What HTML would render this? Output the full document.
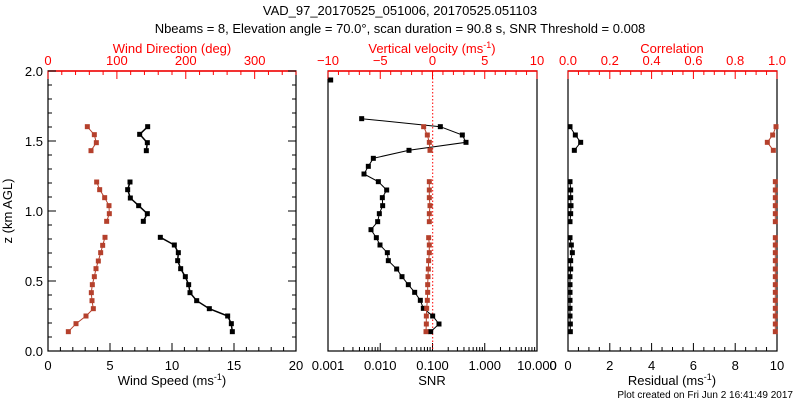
<!DOCTYPE html>
<html><head><meta charset="utf-8"><style>
html,body{margin:0;padding:0;background:#fff}
svg{display:block;font-family:"Liberation Sans",sans-serif;font-size:13px}
</style></head><body>
<svg id="s" width="800" height="400" viewBox="0 0 800 400" xmlns="http://www.w3.org/2000/svg">
<rect width="800" height="400" fill="#fff"/>
<text x="400" y="15" text-anchor="middle">VAD_97_20170525_051006, 20170525.051103</text>
<text x="400" y="33" text-anchor="middle">Nbeams = 8, Elevation angle = 70.0°, scan duration = 90.8 s, SNR Threshold = 0.008</text>
</svg>
<script>
var s=document.getElementById('s'),NS='http://www.w3.org/2000/svg';
function el(t,a,txt){var e=document.createElementNS(NS,t);for(var k in a)e.setAttribute(k,a[k]);if(txt!==undefined)e.innerHTML=txt;s.appendChild(e);return e;}
function L(x1,y1,x2,y2,c,w,d){var a={x1:x1,y1:y1,x2:x2,y2:y2,stroke:c||'#000','stroke-width':w||1};if(d)a['stroke-dasharray']=d;el('line',a);}
var T=71,B=351;
function box(x0,x1){el('rect',{x:x0,y:T,width:x1-x0,height:B-T,fill:'none',stroke:'#000','stroke-width':1.2});L(x0,T,x1,T,'#f00',1.5);}
// Panel 1
box(48,296);
for(var i=0;i<=20;i++){var x=48+i*12.4,M=i%5==0;L(x,B,x,B-(M?8:4));if(M)el('text',{x:x,y:370,'text-anchor':'middle'},i);}
for(var d=0;d<=360;d+=20){var x=48+d*248/360;L(x,T,x,T+(d%100==0?8:4),'#f00');}
[0,100,200,300].forEach(function(d){el('text',{x:48+d*248/360,y:65,'text-anchor':'middle',fill:'#f00'},d);});
for(var i=0;i<=20;i++){var y=B-i*14,M=i%5==0;L(48,y,48+(M?8:4),y);L(296,y,296-(M?8:4),y);if(M)el('text',{x:43,y:y+5,'text-anchor':'end'},(i/10).toFixed(1));}
el('text',{x:172,y:385,'text-anchor':'middle'},'Wind Speed (ms<tspan dy="-5" font-size="9">-1</tspan><tspan dy="5">)</tspan>');
el('text',{x:172,y:53,'text-anchor':'middle',fill:'#f00'},'Wind Direction (deg)');
el('text',{x:0,y:0,transform:'translate(12,211) rotate(-90)','text-anchor':'middle'},'z (km AGL)');
// Panel 2
box(328,537);
var dec=52.25;
for(var e=0;e<4;e++)for(var m=1;m<10;m++){var x=328+(e+Math.log10(m))*dec;L(x,B,x,B-(m==1?8:4));}
L(537,B,537,B-8);
['0.001','0.010','0.100','1.000','10.000'].forEach(function(t,i){el('text',{x:328+i*dec,y:370,'text-anchor':'middle'},t);});
for(var v=-10;v<=10;v++){var x=432.5+v*10.45;L(x,T,x,T+(v%5==0?8:4),'#f00');}
[-10,-5,0,5,10].forEach(function(v){el('text',{x:432.5+v*10.45,y:65,'text-anchor':'middle',fill:'#f00'},v<0?'\u2212'+(-v):v);});
el('text',{x:432,y:385,'text-anchor':'middle'},'SNR');
el('text',{x:432,y:53,'text-anchor':'middle',fill:'#f00'},'Vertical velocity (ms<tspan dy="-5" font-size="9">-1</tspan><tspan dy="5">)</tspan>');
L(432.7,T,432.7,B,'#f00',1,'1.5,2');
// Panel 3
box(568,777);
for(var i=0;i<=20;i++){var x=568+i*10.45;L(x,B,x,B-(i%4==0?8:4));if(i%4==0)el('text',{x:x,y:370,'text-anchor':'middle'},i/2);}
el('text',{x:553,y:370,'text-anchor':'middle'},'0');
for(var i=0;i<=20;i++){var x=568+i*10.45;L(x,T,x,T+(i%4==0?8:4),'#f00');if(i%4==0)el('text',{x:x,y:65,'text-anchor':'middle',fill:'#f00'},(i/20).toFixed(1));}
el('text',{x:672,y:385,'text-anchor':'middle'},'Residual (ms<tspan dy="-5" font-size="9">-1</tspan><tspan dy="5">)</tspan>');
el('text',{x:672,y:53,'text-anchor':'middle',fill:'#f00'},'Correlation');
el('text',{x:793,y:398,'text-anchor':'end','font-size':'10'},'Plot created on Fri Jun  2 16:41:49 2017');
// series
function ser(ox,oy,segs,col,w){segs.forEach(function(p){var pts=p.map(function(q){return (ox+q[0]/3).toFixed(1)+','+(oy+q[1]/3).toFixed(1);}).join(' ');
el('polyline',{points:pts,fill:'none',stroke:col,'stroke-width':w});
p.forEach(function(q){el('rect',{x:ox+q[0]/3-2.5,y:oy+q[1]/3-2.5,width:5,height:5,fill:col});});});}
var BK='#000',RD='#b5402c';
ser(0,0,[[[443,380],[419,403],[442,428],[439,452]],[[390,546],[383,569],[391,594],[416,617],[442,641],[430,664]],[[481,712],[523,735],[535,758],[533,782],[542,806],[556,830],[566,854],[570,878],[590,902],[628,926],[683,948],[694,971],[697,995]]],BK,1.5);
ser(0,0,[[[262,380],[283,404],[289,428],[273,452]],[[290,546],[299,569],[314,593],[327,617],[328,641],[320,664]],[[315,712],[308,736],[302,758],[295,783],[288,806],[283,830],[277,854],[274,878],[276,902],[280,926],[258,948],[228,971],[205,995]]],RD,1);
ser(310,40,[[[62,120]],[[155,236],[391,260],[457,285],[468,307],[297,331],[190,355],[175,379],[162,402],[205,425],[230,450],[217,473],[218,497],[208,521],[203,545],[183,569],[199,593],[210,615],[232,638],[235,662],[260,687],[276,710],[295,734],[314,757],[331,781],[340,805],[368,828],[387,852],[362,875]]],BK,1);
ser(310,40,[[[341,260],[352,285],[358,307],[360,331]],[[358,425],[358,450],[358,473],[360,497],[358,521],[358,545]],[[356,593],[358,615],[358,638],[356,662],[355,687],[354,710],[353,734],[353,757],[352,781],[350,805],[349,828],[349,852],[348,875]]],RD,1);
ser(550,40,[[[60,260],[76,285],[92,307],[73,331]],[[60,425],[62,450],[62,473],[63,497],[62,521],[60,545]],[[60,593],[64,615],[67,638],[62,662],[62,687],[60,710],[60,734],[60,757],[60,781],[60,805],[60,828],[61,852],[61,875]]],BK,1);
ser(550,40,[[[678,260],[668,285],[652,307],[670,331]],[[676,425],[676,450],[676,473],[676,497],[676,521],[676,545]],[[676,593],[676,615],[676,638],[676,662],[676,687],[676,710],[676,734],[676,757],[676,781],[676,805],[676,828],[676,852],[676,875]]],RD,1);
</script>
</body></html>
